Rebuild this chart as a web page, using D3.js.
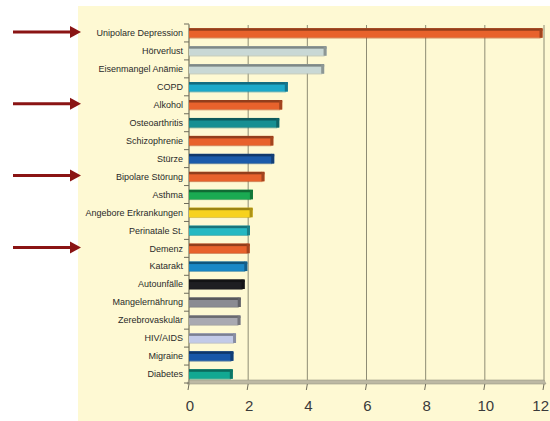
<!DOCTYPE html>
<html><head><meta charset="utf-8">
<script src="https://cdn.jsdelivr.net/npm/d3@7"></script>
<style>body{margin:0;background:#fff}svg{display:block}</style>
</head><body>
<svg id="c" width="550" height="421"></svg>
<script>
const categories = ["Unipolare Depression","Hörverlust","Eisenmangel Anämie","COPD","Alkohol","Osteoarthritis","Schizophrenie","Stürze","Bipolare Störung","Asthma","Angebore Erkrankungen","Perinatale St.","Demenz","Katarakt","Autounfälle","Mangelernährung","Zerebrovaskulär","HIV/AIDS","Migraine","Diabetes"];
const values = [11.95,4.65,4.57,3.34,3.15,3.05,2.85,2.88,2.55,2.16,2.15,2.06,2.05,1.97,1.88,1.75,1.74,1.59,1.50,1.48];
const colors = ["#E8622C","#C9D8D5","#C9D8D5","#1CA9C9","#E8622C","#178F92","#E8622C","#1B5BAA","#E8622C","#1AAA52","#F7D21E","#27B8C2","#E8622C","#1A88C6","#1E1E22","#8B8B92","#A9A9B1","#C2CAE8","#1757A8","#12A892"];
const tickValues = [0,2,4,6,8,10,12];
const arrowTargets = ["Unipolare Depression","Alkohol","Bipolare Störung","Demenz"];

const svg = d3.select("#c");
// cream panel
svg.append("rect").attr("x",78).attr("y",6).attr("width",472).attr("height",415).attr("fill","#FEF9D3");

const x = d3.scaleLinear().domain([0,12]).range([189,544]);
const y = d3.scaleBand().domain(categories).range([24,383]).paddingInner(0.47).paddingOuter(0.235);

// gridlines
svg.append("g").selectAll("line").data(tickValues).join("line")
  .attr("x1",d=>x(d)).attr("x2",d=>x(d)).attr("y1",25).attr("y2",381)
  .attr("stroke","#8E8C74").attr("stroke-width",1);

// floor
svg.append("path").attr("d",`M${x(0)},380 L${x(12)},380 L${x(12)+2},384 L${x(0)-2},384 Z`)
  .attr("fill","#BDB9A4").attr("stroke","#9A9784").attr("stroke-width",0.6);
// bottom ticks
svg.append("g").selectAll("line").data(tickValues).join("line")
  .attr("x1",d=>x(d)).attr("x2",d=>x(d)-1).attr("y1",384).attr("y2",390)
  .attr("stroke","#6E6C5C").attr("stroke-width",1);

// y axis line + ticks at band boundaries
svg.append("line").attr("x1",189).attr("x2",189).attr("y1",24).attr("y2",384).attr("stroke","#8E8C74");
const step = y.step();
const bounds = d3.range(categories.length+1).map(i=>24+i*step);
svg.append("g").selectAll("line").data(bounds).join("line")
  .attr("x1",184).attr("x2",189).attr("y1",d=>d).attr("y2",d=>d)
  .attr("stroke","#6E6C5C").attr("stroke-width",1);

// bars (pseudo 3D)
const bars = svg.append("g").selectAll("g").data(categories).join("g");
const bh = y.bandwidth();
bars.append("rect").attr("x",x(0)).attr("y",d=>y(d))
  .attr("width",(d,i)=>x(values[i])-x(0)).attr("height",bh)
  .attr("fill",(d,i)=>colors[i]);
bars.append("rect").attr("x",x(0)).attr("y",d=>y(d))
  .attr("width",(d,i)=>x(values[i])-x(0)).attr("height",2.5)
  .attr("fill",(d,i)=>d3.color(colors[i]).darker(1.3));
bars.append("path").attr("d",(d,i)=>{
    const xe=x(values[i]), yt=y(d);
    return `M${xe-3},${yt} L${xe},${yt+1} L${xe},${yt+bh} L${xe-3},${yt+bh} Z`;})
  .attr("fill",(d,i)=>d3.color(colors[i]).darker(1.0));
bars.append("line").attr("x1",x(0)).attr("x2",(d,i)=>x(values[i])-2)
  .attr("y1",d=>y(d)+bh+0.3).attr("y2",d=>y(d)+bh+0.3)
  .attr("stroke",(d,i)=>d3.color(colors[i]).darker(0.6)).attr("stroke-width",0.6);

// category labels
svg.append("g").selectAll("text").data(categories).join("text")
  .attr("x",183).attr("y",d=>y(d)+bh/2).attr("dy","0.35em")
  .attr("text-anchor","end").attr("font-family","Liberation Sans, Arial, sans-serif")
  .attr("font-size",9).attr("fill","#2A2A2A").text(d=>d);

// x tick labels
svg.append("g").selectAll("text").data(tickValues).join("text")
  .attr("x",d=>d===12 ? 549 : x(d)+1).attr("y",406).attr("dy","0.35em")
  .attr("text-anchor",d=>d===12 ? "end" : "middle")
  .attr("font-family","Liberation Sans, Arial, sans-serif").attr("font-size",15)
  .attr("fill","#3A3A3A").text(d=>d);

// arrows
const arr = svg.append("g").selectAll("g").data(arrowTargets).join("g");
arr.append("line").attr("x1",13).attr("x2",73).attr("y1",d=>y(d)+bh/2-1).attr("y2",d=>y(d)+bh/2-1)
  .attr("stroke","#8A1414").attr("stroke-width",3);
arr.append("path").attr("d",d=>{const c=y(d)+bh/2-1;return `M70,${c-6} L81,${c} L70,${c+6} Z`;})
  .attr("fill","#8A1414");
</script>
</body></html>
